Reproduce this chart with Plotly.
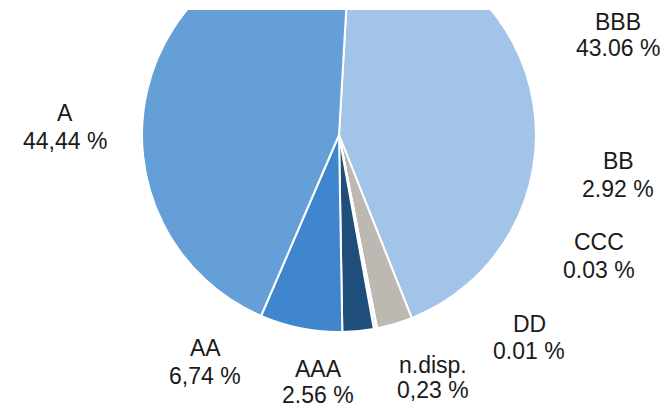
import plotly.graph_objects as go

# ---- data ----
ratings = ["BBB", "BB", "CCC", "DD", "n.disp.", "AAA", "AA", "A"]
shares = [43.06, 2.92, 0.03, 0.01, 0.23, 2.56, 6.74, 44.44]
share_labels = ["43.06 %", "2.92 %", "0.03 %", "0.01 %", "0,23 %", "2.56 %", "6,74 %", "44,44 %"]

# ---- styling / layout ----
colors = ["#A2C4E8", "#BEB8B3", "#D9D9D9", "#D9D9D9", "#E3E3E3", "#1F4E7A", "#3F86CF", "#659FD7"]

W, VIS_H, SHIFT = 671, 406, 62
H = VIS_H + SHIFT
CX, CY, R = 339, 135, 197  # on-screen pie centre / radius

# label centres on screen: (x, y_name, y_value)
label_pos = [
    (618, 22, 48),
    (618, 161, 189),
    (599, 242, 270),
    (529, 324, 351),
    (433, 365, 390),
    (318, 369, 395),
    (205, 348, 376),
    (65, 113, 141),
]

fig = go.Figure(go.Pie(
    labels=ratings,
    values=shares,
    sort=False,
    direction="clockwise",
    rotation=3.3,
    textinfo="none",
    hoverinfo="label+percent",
    marker=dict(colors=colors, line=dict(color="white", width=2)),
    domain=dict(x=[(CX - R) / W, (CX + R) / W], y=[(H - (CY + SHIFT + R)) / H, 1]),
    showlegend=False,
))

font = dict(family="Liberation Sans, Arial, sans-serif", size=23, color="#1a1a1a")
for name, val, (x, yn, yv) in zip(ratings, share_labels, label_pos):
    for txt, y in ((name, yn), (val, yv)):
        fig.add_annotation(
            x=x / W, y=1 - (y + SHIFT) / H, xref="paper", yref="paper",
            text=txt, showarrow=False, xanchor="center", yanchor="middle", font=font,
        )

# white strip at the very top where the reference pie is clipped
fig.add_shape(type="rect", xref="paper", yref="paper", x0=0, x1=1,
              y0=1 - (SHIFT + 10) / H, y1=1.0, fillcolor="white",
              line=dict(width=0), layer="above")

fig.update_layout(
    width=W, height=H,
    margin=dict(l=0, r=0, t=0, b=0),
    paper_bgcolor="white", plot_bgcolor="white",
)

post = ("document.body.style.margin='0';document.body.style.overflow='hidden';"
        "var d=document.getElementById('{plot_id}');d.style.marginTop='-%dpx';" % SHIFT)
fig.write_html("out.html", config={"displayModeBar": False}, post_script=post)
